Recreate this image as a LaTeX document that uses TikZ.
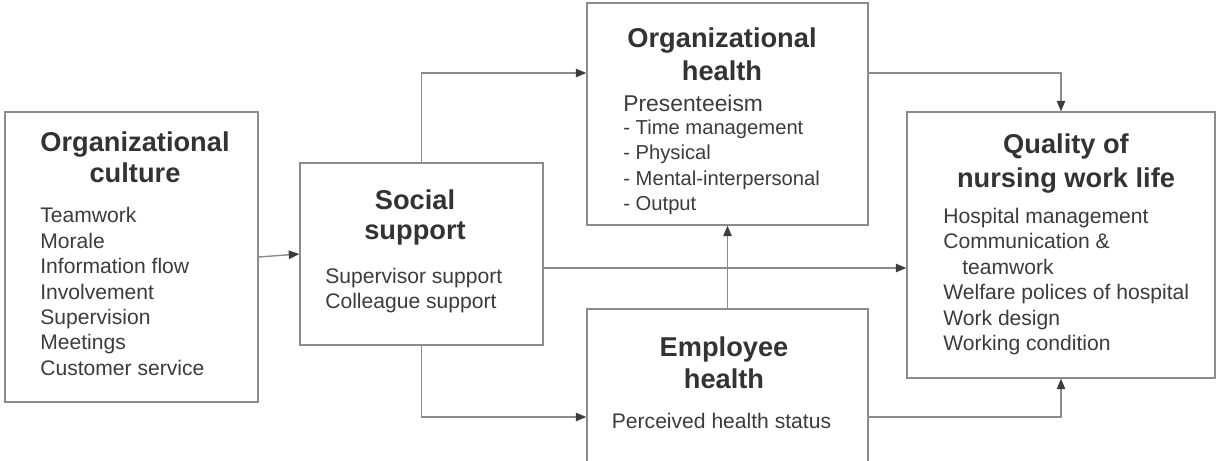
\documentclass[tikz,border=0pt]{standalone}
\usepackage{fontspec}
\setmainfont{Liberation Sans}
\usetikzlibrary{arrows.meta}
\definecolor{nwline}{HTML}{8C8C8C}
\definecolor{nwink}{HTML}{3C3C3C}
\definecolor{nwhead}{HTML}{333333}

\begin{document}
\begin{tikzpicture}[x=.02cm,y=-.02cm,line join=miter,
  box/.style={draw=nwline,line width=.8pt,inner sep=0pt},
  head/.style={align=center,text=nwhead,font=\fontsize{15.5}{17.5}\selectfont\bfseries},
  items/.style={align=left,anchor=west,text=nwink,inner sep=0pt,
    font=\fontsize{12}{14.5}\selectfont},
  link/.style={draw=nwline,line width=.8pt,
    -{Triangle[length=6pt,width=4.8pt,color=nwink]}}]
\useasboundingbox (0,0) rectangle (1230,460);
\clip (0,0) rectangle (1230,460);
\fill[white] (0,0) rectangle (1230,460);

% the five blocks, sized as in the figure
\node[box,minimum width=5.06cm,minimum height=5.8cm] (culture) at (131.5,257) {};
\node[box,minimum width=4.86cm,minimum height=3.64cm] (social) at (421.5,254) {};
\node[box,minimum width=5.62cm,minimum height=4.44cm] (orghealth) at (727.5,114) {};
\node[box,minimum width=5.62cm,minimum height=3.22cm] (emphealth) at (727.5,389.5) {};
\node[box,minimum width=6.16cm,minimum height=5.32cm] (quality) at (1061,245) {};

% texts
\node[head] (culturehead) at (135,157.5) {Organizational\\culture};
\node[items] (culturelist) at (40,291.5)
  {Teamwork\\Morale\\Information flow\\Involvement\\Supervision\\Meetings\\Customer service};

\node[head] (socialhead) at (415,217.5) {Social\\support};
\node[items] (sociallist) at (325,290.5) {Supervisor support\\Colleague support};

\node[head,font=\fontsize{15.5}{19}\selectfont\bfseries] (orghead) at (722,54.5)
  {Organizational\\health};
\node[items,font=\fontsize{13}{15}\selectfont] (presentee) at (623,103) {Presenteeism};
\node[items,font=\fontsize{11.5}{14.5}\selectfont] (orglist) at (623,167.5)
  {- Time management\\- Physical\\- Mental-interpersonal\\- Output};

\node[head,font=\fontsize{15.5}{18.5}\selectfont\bfseries] (emphead) at (724,363)
  {Employee\\health};
\node[items,anchor=center] (emplist) at (721.5,421) {Perceived health status};

\node[head,font=\fontsize{15.5}{19}\selectfont\bfseries] (qualityhead) at (1066,163.5)
  {Quality of\\nursing work life};
\node[items] (qualitylist) at (943,281.5)
  {Hospital management\\Communication \&\\\hspace*{.38cm}teamwork\\
   Welfare polices of hospital\\Work design\\Working condition};

% connectors
\coordinate (socialout) at ([yshift=-.28cm]social.east);
\draw[link] (culture.east) -- (social.west);
\draw[link] (social.north) |- ([yshift=.82cm]orghealth.west);
\draw[link] (social.south) |- ([yshift=-.55cm]emphealth.west);
\draw[link] (socialout) -- (socialout -| quality.west);
\draw[link] (emphealth.north) -- (orghealth.south);
\draw[link] ([yshift=.82cm]orghealth.east) -| (quality.north);
\draw[link] ([yshift=-.55cm]emphealth.east) -| (quality.south);
\end{tikzpicture}
\end{document}
